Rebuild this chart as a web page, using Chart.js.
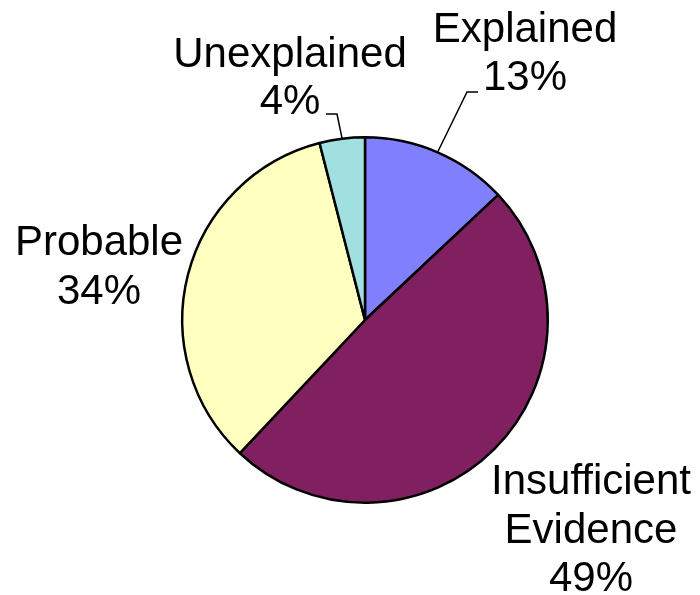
<!DOCTYPE html>
<html lang="en">
<head>
  <meta charset="UTF-8">
  <title>Pie chart</title>
  <script src="https://cdn.jsdelivr.net/npm/chart.js"></script>
  <style>
    body {
      margin: 0;
      background: #fff;
    }
    .wrap {
      width: 700px;
      height: 595px;
    }
  </style>
</head>
<body>
<div class="wrap">
  <canvas id="chart" width="700" height="595"></canvas>
</div>

<script>
  // data
  const categories = ['Explained', 'Insufficient Evidence', 'Probable', 'Unexplained'];
  const shares = [13, 49, 34, 4];
  const sliceColors = ['#8080FF', '#802060', '#FFFFC0', '#A0E0E0'];

  // label text lines + where they sit (centre of each line), and leader elbow if any
  const labelLines = [['Explained', '13%'], ['Insufficient', 'Evidence', '49%'], ['Probable', '34%'], ['Unexplained', '4%']];
  const labelSpots = [
    { x: 525, y: [30, 78], elbow: [[478, 92], [467, 92]] },
    { x: 591, y: [482, 531, 579] },
    { x: 99, y: [243, 292] },
    { x: 290, y: [55, 102], elbow: [[326, 114], [337, 114]] }
  ];

  const outsideLabels = {
    id: 'outsideLabels',
    afterDraw(chart) {
      const c = chart.ctx;
      const arcs = chart.getDatasetMeta(0).data;
      c.save();
      c.fillStyle = '#000';
      c.font = '42px "Liberation Sans", Arial, sans-serif';
      c.textAlign = 'center';
      c.textBaseline = 'middle';
      labelLines.forEach((lines, i) => {
        const spot = labelSpots[i];
        lines.forEach((t, j) => c.fillText(t, spot.x, spot.y[j]));
        if (spot.elbow) {
          const a = arcs[i];
          const mid = (a.startAngle + a.endAngle) / 2;
          const ex = a.x + Math.cos(mid) * a.outerRadius;
          const ey = a.y + Math.sin(mid) * a.outerRadius;
          c.strokeStyle = '#000';
          c.lineWidth = 1.5;
          c.beginPath();
          c.moveTo(spot.elbow[0][0], spot.elbow[0][1]);
          c.lineTo(spot.elbow[1][0], spot.elbow[1][1]);
          c.lineTo(ex, ey);
          c.stroke();
        }
      });
      c.restore();
    }
  };

  new Chart(document.getElementById('chart'), {
    type: 'pie',
    data: {
      labels: categories,
      datasets: [{
        data: shares,
        backgroundColor: sliceColors,
        borderColor: '#000',
        borderWidth: 2.5
      }]
    },
    options: {
      responsive: false,
      animation: false,
      layout: {
        padding: { left: 181, right: 151, top: 136, bottom: 91 }
      },
      plugins: {
        legend: { display: false },
        tooltip: { enabled: false }
      }
    },
    plugins: [outsideLabels]
  });
</script>
</body>
</html>
